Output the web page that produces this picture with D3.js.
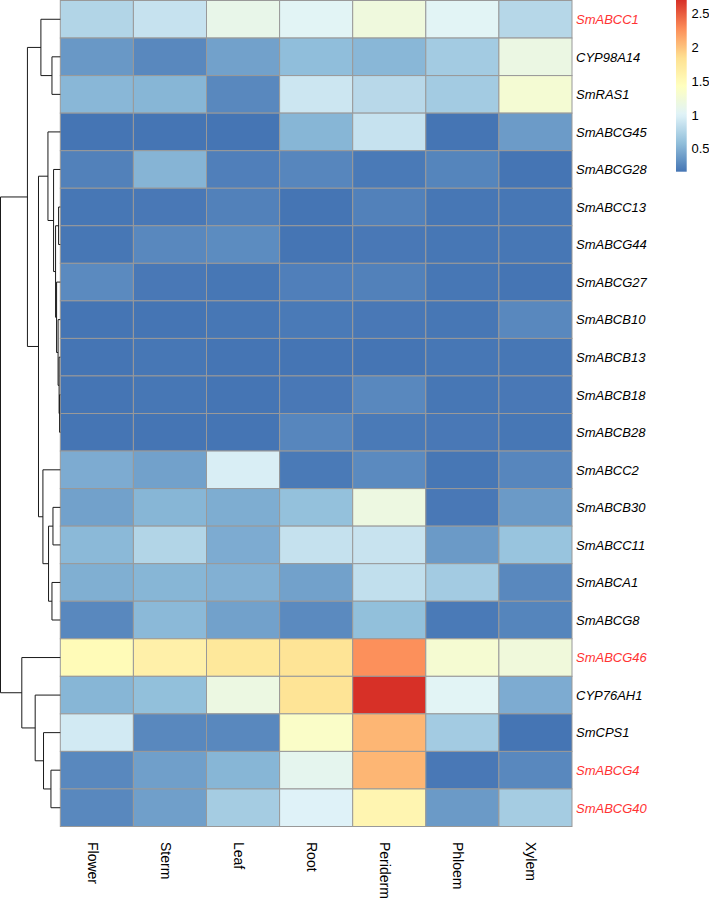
<!DOCTYPE html>
<html>
<head>
<meta charset="utf-8">
<script src="https://d3js.org/d3.v7.min.js"></script>
<style>
	body { margin: 0; background: #fff; }
	svg { display: block; font-family: "Liberation Sans", Arial, sans-serif; }
</style>
</head>
<body>
<svg width="709" height="900"></svg>
<script>
const genes = ['SmABCC1', 'CYP98A14', 'SmRAS1', 'SmABCG45', 'SmABCG28', 'SmABCC13', 'SmABCG44',
	'SmABCG27', 'SmABCB10', 'SmABCB13', 'SmABCB18', 'SmABCB28', 'SmABCC2', 'SmABCB30', 'SmABCC11',
	'SmABCA1', 'SmABCG8', 'SmABCG46', 'CYP76AH1', 'SmCPS1', 'SmABCG4', 'SmABCG40']
const redGenes = ['SmABCC1', 'SmABCG46', 'SmABCG4', 'SmABCG40']
const tissues = ['Flower', 'Sterm', 'Leaf', 'Root', 'Periderm', 'Phloem', 'Xylem']

// one row per gene, one value per tissue
const values = [
	[0.76, 0.87, 1.12, 1.03, 1.21, 1.03, 0.78],
	[0.36, 0.27, 0.41, 0.58, 0.54, 0.68, 1.16],
	[0.54, 0.53, 0.27, 0.90, 0.79, 0.68, 1.28],
	[0.16, 0.16, 0.16, 0.53, 0.87, 0.16, 0.38],
	[0.23, 0.52, 0.22, 0.26, 0.19, 0.25, 0.16],
	[0.17, 0.18, 0.23, 0.16, 0.23, 0.17, 0.17],
	[0.17, 0.27, 0.29, 0.16, 0.18, 0.17, 0.17],
	[0.28, 0.18, 0.17, 0.22, 0.23, 0.17, 0.16],
	[0.16, 0.16, 0.17, 0.19, 0.18, 0.17, 0.27],
	[0.16, 0.17, 0.16, 0.16, 0.16, 0.17, 0.17],
	[0.16, 0.17, 0.16, 0.18, 0.27, 0.17, 0.18],
	[0.16, 0.16, 0.16, 0.26, 0.19, 0.18, 0.17],
	[0.47, 0.41, 0.97, 0.19, 0.28, 0.17, 0.26],
	[0.41, 0.53, 0.48, 0.60, 1.18, 0.18, 0.37],
	[0.55, 0.76, 0.47, 0.86, 0.88, 0.37, 0.62],
	[0.49, 0.53, 0.50, 0.41, 0.84, 0.68, 0.27],
	[0.27, 0.55, 0.41, 0.28, 0.59, 0.19, 0.25],
	[1.49, 1.63, 1.75, 1.80, 2.26, 1.29, 1.22],
	[0.53, 0.59, 1.17, 1.80, 2.70, 1.03, 0.47],
	[0.93, 0.27, 0.27, 1.36, 2.07, 0.68, 0.16],
	[0.27, 0.40, 0.53, 1.08, 2.07, 0.18, 0.27],
	[0.27, 0.40, 0.69, 1.00, 1.56, 0.37, 0.69]
]

// row dendrogram, hclust style: negative = leaf (row index + 1), positive = earlier merge
const merges = [
	[-2, -3, 8.3], [-1, 1, 19.3], [-11, -12, 0.7], [-10, 3, 1.2], [-9, 4, 2.2], [-8, 5, 3.7],
	[-6, -7, 1.7], [7, 6, 4.7], [-5, 8, 6.7], [-4, 9, 12.3], [-14, -15, 7.3], [-16, -17, 8.3],
	[11, 12, 11.7], [-13, 13, 17.3], [10, 14, 21.7], [2, 15, 32.7], [-21, -22, 9.3],
	[-20, 17, 16.7], [-19, 18, 25], [-18, 19, 38.3], [16, 20, 59.5]
]

const legendTicks = [0.5, 1, 1.5, 2, 2.5]
const palette = ['#4575B4', '#91BFDB', '#E0F3F8', '#FFFFBF', '#FEE090', '#FC8D59', '#D73027']

const svg = d3.select('svg')
const gridLeft = 60.3, gridRight = 572, gridTop = 0.5, gridBottom = 826.5

const x = d3.scaleBand().domain(tissues).range([gridLeft, gridRight])
const y = d3.scaleBand().domain(genes).range([gridTop, gridBottom])

const flat = values.flat()
const [vmin, vmax] = d3.extent(flat)
const color = d3.scaleLinear()
	.domain(palette.map((c, i) => vmin + i * (vmax - vmin) / (palette.length - 1)))
	.range(palette)
	.interpolate(d3.interpolateRgb)

drawCells()
drawDendrogram()
drawLabels()
drawLegend()

function drawCells() {
	const cells = []
	genes.forEach((g, i) => tissues.forEach((t, j) => cells.push({g, t, v: values[i][j]})))
	svg.append('g').selectAll('rect')
		.data(cells)
		.enter()
			.append('rect')
			.attr('x', d => x(d.t))
			.attr('y', d => y(d.g))
			.attr('width', x.bandwidth())
			.attr('height', y.bandwidth())
			.attr('fill', d => color(d.v))
			.attr('stroke', '#999999')
			.attr('stroke-width', 1)
}

function drawDendrogram() {
	const h = d3.scaleLinear().domain([0, merges[merges.length - 1][2]]).range([gridLeft, 0.5])
	const nodes = []
	const info = k => k < 0
		? {y: y(genes[-k - 1]) + y.bandwidth() / 2, h: 0}
		: nodes[k - 1]
	const g = svg.append('g')
		.attr('fill', 'none')
		.attr('stroke', '#1a1a1a')
		.attr('stroke-width', 1)
	merges.forEach(([a, b, height]) => {
		const ca = info(a), cb = info(b)
		nodes.push({y: (ca.y + cb.y) / 2, h: height})
		g.append('path')
			.attr('d', `M${h(ca.h)},${ca.y}H${h(height)}V${cb.y}H${h(cb.h)}`)
	})
}

function drawLabels() {
	svg.append('g').selectAll('text')
		.data(genes)
		.enter()
			.append('text')
			.attr('x', 576)
			.attr('y', d => y(d) + y.bandwidth() / 2 + 4.8)
			.attr('font-size', 13)
			.attr('font-style', 'italic')
			.attr('fill', d => redGenes.includes(d) ? '#ff3333' : '#000')
			.text(d => d)

	svg.append('g').selectAll('text')
		.data(tissues)
		.enter()
			.append('text')
			.attr('transform', d => `translate(${x(d) + x.bandwidth() / 2 - 9},842) rotate(90)`)
			.attr('font-size', 14)
			.attr('fill', '#000')
			.text(d => d)
}

function drawLegend() {
	const ly = d3.scaleLinear().domain([vmin, vmax]).range([171.7, 0])
	const grad = svg.append('defs').append('linearGradient')
		.attr('id', 'lg')
		.attr('x1', 0).attr('y1', 1).attr('x2', 0).attr('y2', 0)
	d3.range(0, 1.0001, 0.02).forEach(t => {
		grad.append('stop')
			.attr('offset', t)
			.attr('stop-color', color(vmin + t * (vmax - vmin)))
	})
	svg.append('rect')
		.attr('x', 676)
		.attr('y', ly(vmax))
		.attr('width', 10.7)
		.attr('height', ly(vmin) - ly(vmax))
		.attr('fill', 'url(#lg)')
	svg.append('g').selectAll('text')
		.data(legendTicks)
		.enter()
			.append('text')
			.attr('x', 691.5)
			.attr('y', d => ly(d) + 4.7)
			.attr('font-size', 13)
			.attr('fill', '#000')
			.text(d => d)
}
</script>
</body>
</html>
